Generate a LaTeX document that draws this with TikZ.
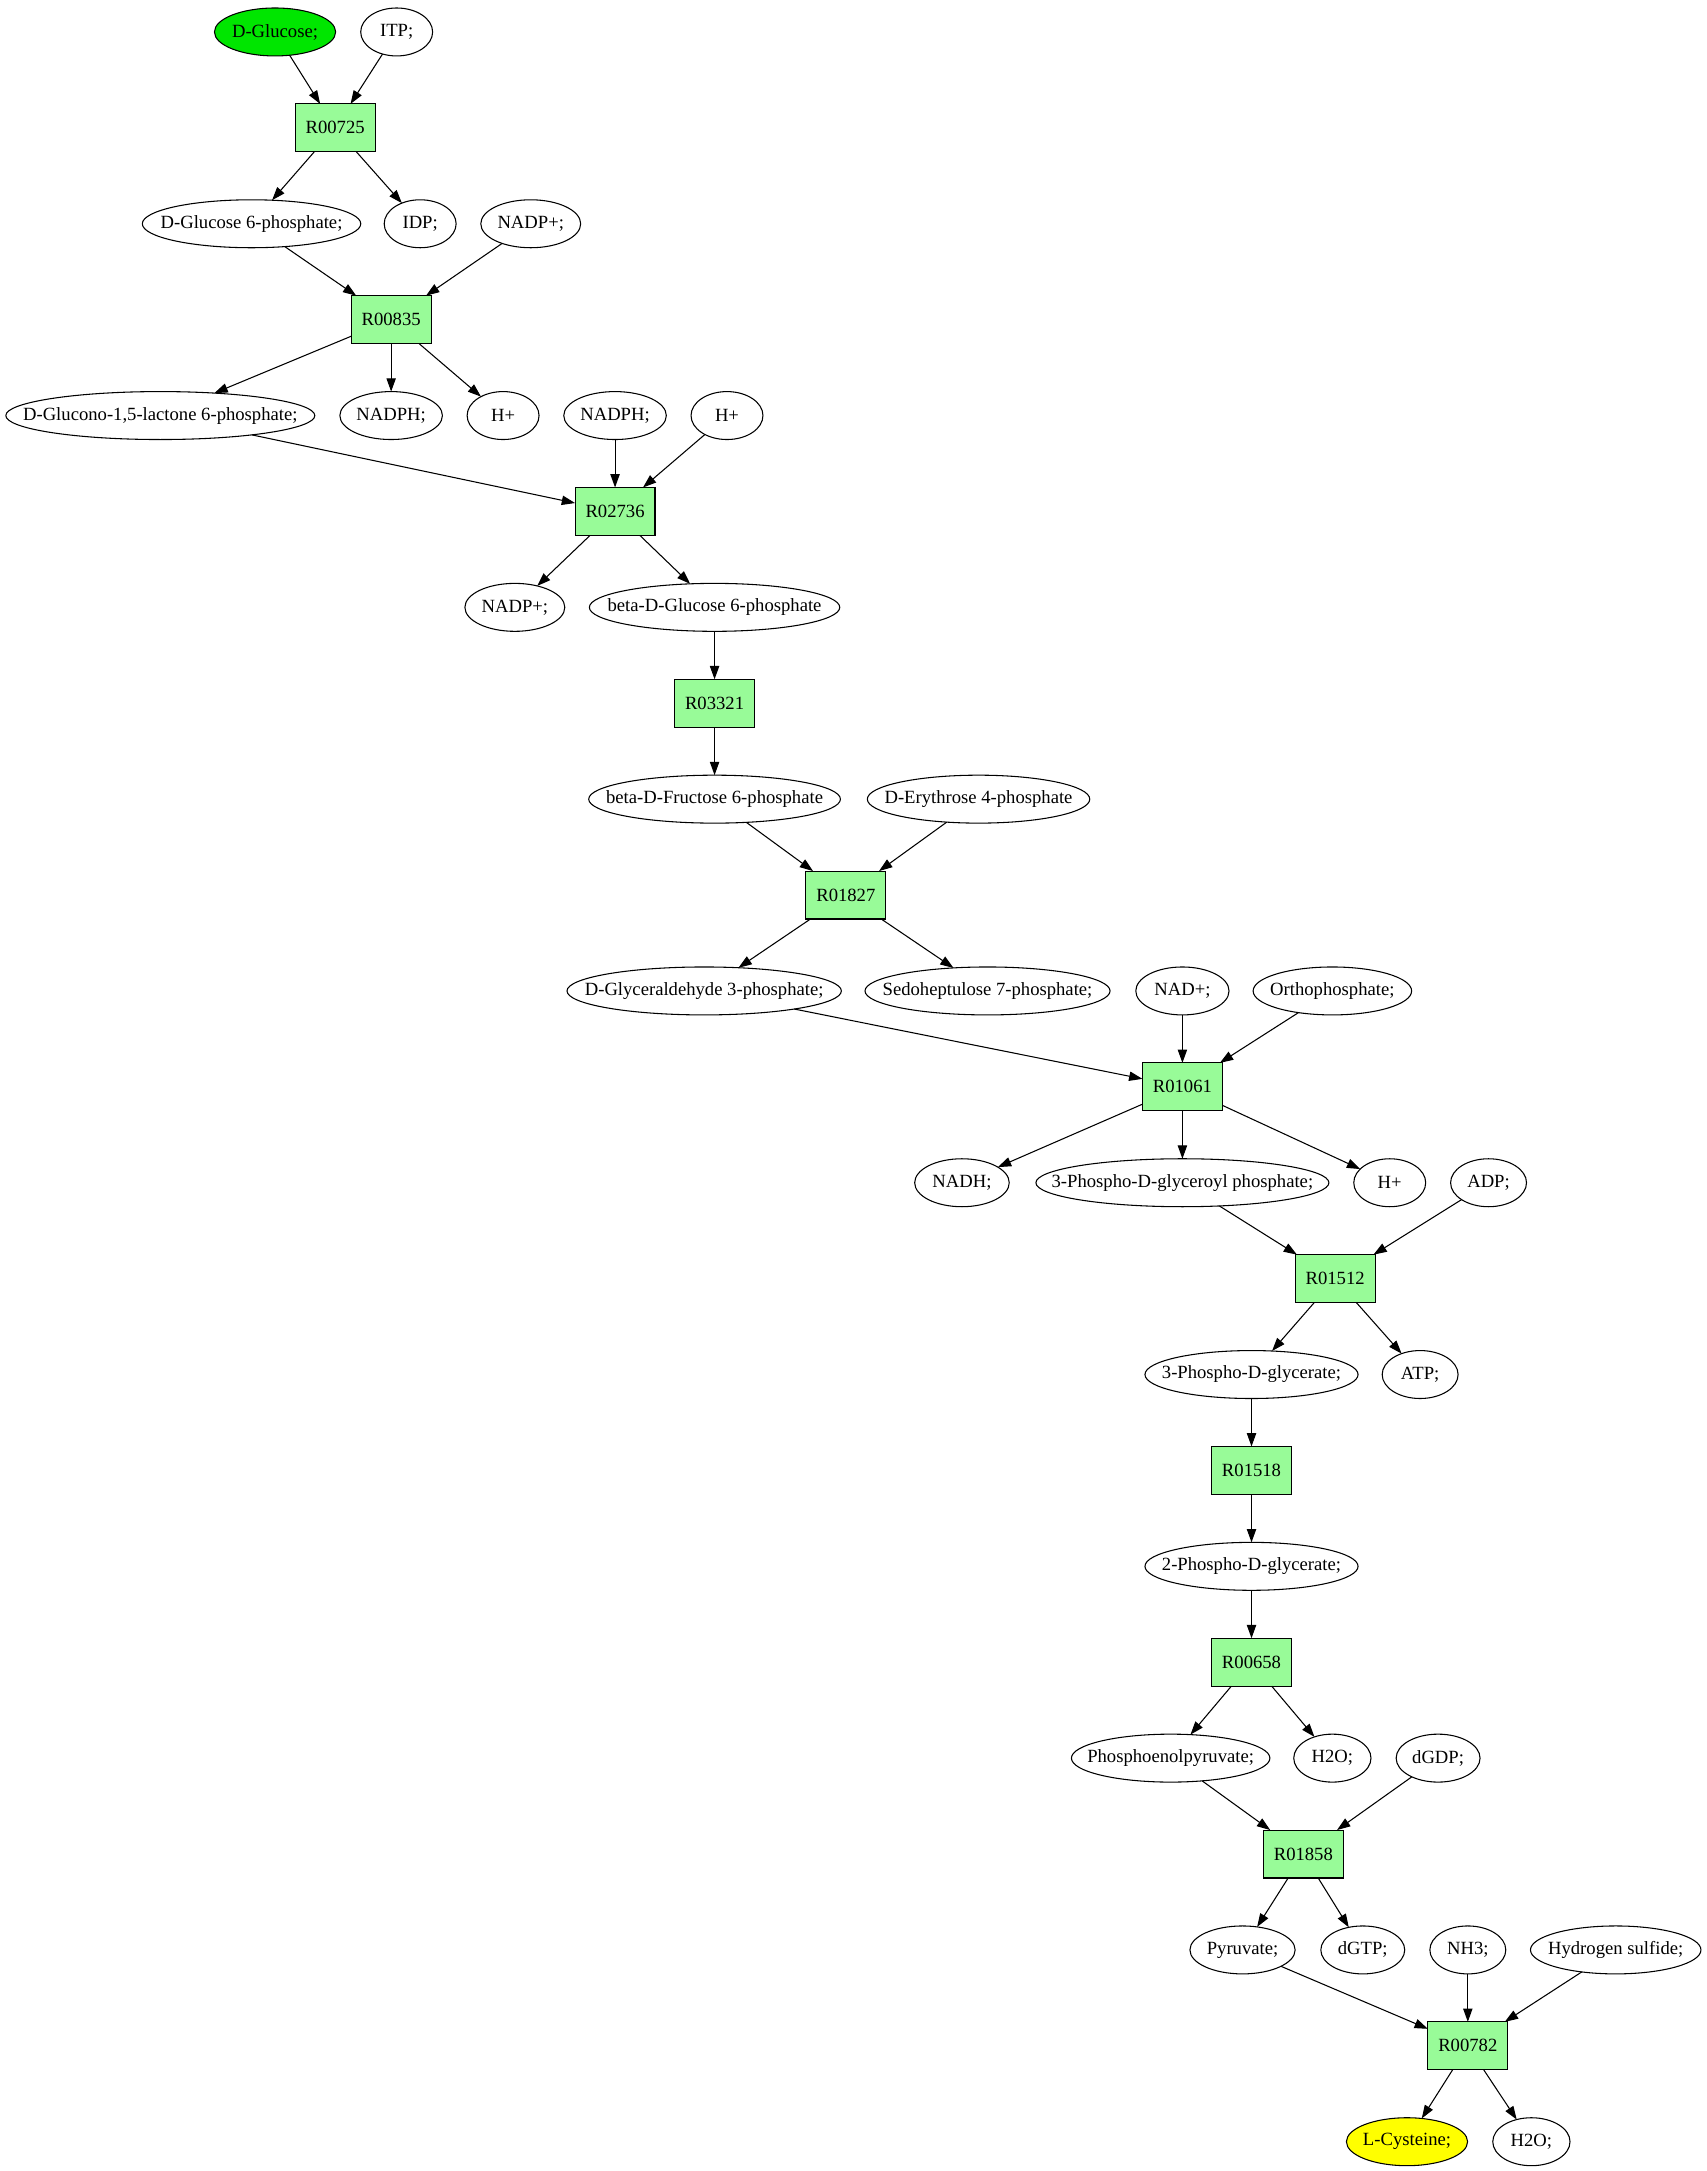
\documentclass[tikz,border=0pt]{standalone}
\usepackage{fontspec}
\setmainfont{Liberation Serif}
\usetikzlibrary{shapes.geometric,arrows.meta}
\definecolor{glcgreen}{RGB}{0,230,0}
\definecolor{rxngreen}{RGB}{152,251,152}
\definecolor{cysyellow}{RGB}{255,255,0}
\begin{document}
\begin{tikzpicture}[x={(1.0377pt,0pt)},y={(0pt,-1pt)},
  met/.style={ellipse, draw, line width=0.8pt, minimum height=36pt, inner sep=0pt, outer sep=0pt, font=\fontsize{14}{16}\selectfont},
  rxn/.style={rectangle, draw, line width=0.8pt, fill=rxngreen, minimum width=60pt, minimum height=36pt, inner sep=0pt, outer sep=0pt, font=\fontsize{14}{16}\selectfont},
  arr/.style={-{Triangle[length=10pt,width=7pt]}, line width=0.8pt}]
\useasboundingbox (0,-2) rectangle (1235,1628);
% rank 0
\node[met, fill=glcgreen, minimum width=91pt] (dglc) at (199,22) {\makebox[0pt]{D-Glucose;}};
\node[met, minimum width=54pt] (itp) at (287,22) {\makebox[0pt]{ITP;}};
% rank 1
\node[rxn] (r1) at (242.5,94) {R00725};
% rank 2
\node[met, minimum width=164pt] (g6p) at (182,166) {\makebox[0pt]{D-Glucose 6-phosphate;}};
\node[met, minimum width=54pt] (idp) at (304,166) {\makebox[0pt]{IDP;}};
\node[met, minimum width=75pt] (nadpa) at (384,166) {\makebox[0pt]{NADP+;}};
% rank 3
\node[rxn] (r2) at (283,238) {R00835};
% rank 4
\node[met, minimum width=232pt] (glucono) at (116,310) {\makebox[0pt]{D-Glucono-1,5-lactone 6-phosphate;}};
\node[met, minimum width=77pt] (nadpha) at (283,310) {\makebox[0pt]{NADPH;}};
\node[met, minimum width=54pt] (ha) at (364,310) {\makebox[0pt]{H+}};
\node[met, minimum width=77pt] (nadphb) at (445,310) {\makebox[0pt]{NADPH;}};
\node[met, minimum width=54pt] (hb) at (526,310) {\makebox[0pt]{H+}};
% rank 5
\node[rxn] (r3) at (445,382) {R02736};
% rank 6
\node[met, minimum width=75pt] (nadpb) at (372.5,454) {\makebox[0pt]{NADP+;}};
\node[met, minimum width=188pt] (bg6p) at (517,454) {\makebox[0pt]{beta-D-Glucose 6-phosphate}};
% rank 7
\node[rxn] (r4) at (517,526) {R03321};
% rank 8
\node[met, minimum width=189pt] (bf6p) at (517,598) {\makebox[0pt]{beta-D-Fructose 6-phosphate}};
\node[met, minimum width=167pt] (e4p) at (708,598) {\makebox[0pt]{D-Erythrose 4-phosphate}};
% rank 9
\node[rxn] (r5) at (612,670) {R01827};
% rank 10
\node[met, minimum width=206pt] (gap) at (509.5,742) {\makebox[0pt]{D-Glyceraldehyde 3-phosphate;}};
\node[met, minimum width=184pt] (s7p) at (714.5,742) {\makebox[0pt]{Sedoheptulose 7-phosphate;}};
\node[met, minimum width=70pt] (nad) at (855.5,742) {\makebox[0pt]{NAD+;}};
\node[met, minimum width=119pt] (ortho) at (964,742) {\makebox[0pt]{Orthophosphate;}};
% rank 11
\node[rxn] (r6) at (855.5,814) {R01061};
% rank 12
\node[met, minimum width=71pt] (nadh) at (696,886) {\makebox[0pt]{NADH;}};
\node[met, minimum width=220pt] (pdgp) at (855.5,886) {\makebox[0pt]{3-Phospho-D-glyceroyl phosphate;}};
\node[met, minimum width=54pt] (hc) at (1005.5,886) {\makebox[0pt]{H+}};
\node[met, minimum width=57pt] (adp) at (1077,886) {\makebox[0pt]{ADP;}};
% rank 13
\node[rxn] (r7) at (966,958) {R01512};
% rank 14
\node[met, minimum width=160pt] (pga) at (905.5,1030) {\makebox[0pt]{3-Phospho-D-glycerate;}};
\node[met, minimum width=57pt] (atp) at (1027.5,1030) {\makebox[0pt]{ATP;}};
% rank 15
\node[rxn] (r8) at (905.5,1102) {R01518};
% rank 16
\node[met, minimum width=160pt] (pgb) at (905.5,1174) {\makebox[0pt]{2-Phospho-D-glycerate;}};
% rank 17
\node[rxn] (r9) at (905.5,1246) {R00658};
% rank 18
\node[met, minimum width=149pt] (pep) at (847,1318) {\makebox[0pt]{Phosphoenolpyruvate;}};
\node[met, minimum width=58pt] (h2oa) at (964,1318) {\makebox[0pt]{H2O;}};
\node[met, minimum width=63pt] (dgdp) at (1040.5,1318) {\makebox[0pt]{dGDP;}};
% rank 19
\node[rxn] (r10) at (943,1390) {R01858};
% rank 20
\node[met, minimum width=79pt] (pyr) at (899,1462) {\makebox[0pt]{Pyruvate;}};
\node[met, minimum width=63pt] (dgtp) at (986,1462) {\makebox[0pt]{dGTP;}};
\node[met, minimum width=57pt] (nh3) at (1062,1462) {\makebox[0pt]{NH3;}};
\node[met, minimum width=128pt] (h2s) at (1169,1462) {\makebox[0pt]{Hydrogen sulfide;}};
% rank 21
\node[rxn] (r11) at (1062,1534) {R00782};
% rank 22
\node[met, fill=cysyellow, minimum width=91pt] (cys) at (1018,1606) {\makebox[0pt]{L-Cysteine;}};
\node[met, minimum width=58pt] (h2ob) at (1108,1606) {\makebox[0pt]{H2O;}};
% edges
\draw[arr] (dglc) -- (r1);
\draw[arr] (itp) -- (r1);
\draw[arr] (r1) -- (g6p);
\draw[arr] (r1) -- (idp);
\draw[arr] (g6p) -- (r2);
\draw[arr] (nadpa) -- (r2);
\draw[arr] (r2) -- (glucono);
\draw[arr] (r2) -- (nadpha);
\draw[arr] (r2) -- (ha);
\draw[arr] (glucono) -- (r3);
\draw[arr] (nadphb) -- (r3);
\draw[arr] (hb) -- (r3);
\draw[arr] (r3) -- (nadpb);
\draw[arr] (r3) -- (bg6p);
\draw[arr] (bg6p) -- (r4);
\draw[arr] (r4) -- (bf6p);
\draw[arr] (bf6p) -- (r5);
\draw[arr] (e4p) -- (r5);
\draw[arr] (r5) -- (gap);
\draw[arr] (r5) -- (s7p);
\draw[arr] (gap) -- (r6);
\draw[arr] (nad) -- (r6);
\draw[arr] (ortho) -- (r6);
\draw[arr] (r6) -- (nadh);
\draw[arr] (r6) -- (pdgp);
\draw[arr] (r6) -- (hc);
\draw[arr] (pdgp) -- (r7);
\draw[arr] (adp) -- (r7);
\draw[arr] (r7) -- (pga);
\draw[arr] (r7) -- (atp);
\draw[arr] (pga) -- (r8);
\draw[arr] (r8) -- (pgb);
\draw[arr] (pgb) -- (r9);
\draw[arr] (r9) -- (pep);
\draw[arr] (r9) -- (h2oa);
\draw[arr] (pep) -- (r10);
\draw[arr] (dgdp) -- (r10);
\draw[arr] (r10) -- (pyr);
\draw[arr] (r10) -- (dgtp);
\draw[arr] (pyr) -- (r11);
\draw[arr] (nh3) -- (r11);
\draw[arr] (h2s) -- (r11);
\draw[arr] (r11) -- (cys);
\draw[arr] (r11) -- (h2ob);
\end{tikzpicture}
\end{document}
